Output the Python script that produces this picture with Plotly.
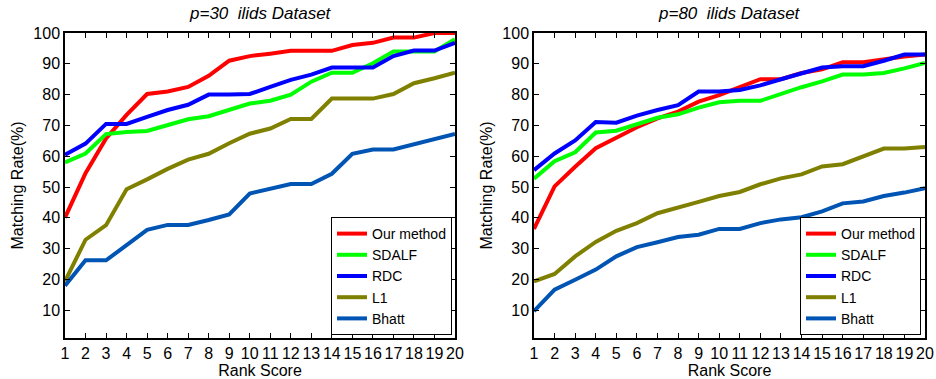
import plotly.graph_objects as go

rank = list(range(1, 21))
tick_labels = [str(i) for i in rank]
y_ticks = [10, 20, 30, 40, 50, 60, 70, 80, 90, 100]

series_names = ["Our method", "SDALF", "RDC", "L1", "Bhatt"]
series_colors = ["#FF0000", "#00FF00", "#0000FF", "#808000", "#0055B4"]

# p=30 panel
p30_our = [40.1, 54.5, 65.8, 73.4, 80.2, 81.0, 82.5, 86.1, 91.0, 92.5, 93.3, 94.2, 94.2, 94.2, 96.1, 96.8, 98.5, 98.5, 100, 100]
p30_sdalf = [58.0, 60.9, 67.2, 67.9, 68.2, 70.1, 72.0, 73.0, 75.2, 77.1, 78.0, 80.0, 84.2, 87.1, 87.1, 90.2, 94.0, 94.0, 94.0, 98.0]
p30_rdc = [60.5, 64.1, 70.5, 70.5, 72.8, 75.0, 76.7, 80.0, 80.0, 80.2, 82.5, 84.8, 86.5, 88.8, 88.8, 88.8, 92.5, 94.3, 94.3, 96.8]
p30_l1 = [19.4, 32.9, 37.6, 49.3, 52.5, 55.9, 58.9, 60.8, 64.2, 67.3, 69.0, 72.1, 72.1, 78.7, 78.7, 78.7, 80.2, 83.7, 85.3, 87.1]
p30_bhatt = [18.0, 26.2, 26.2, 31.3, 36.1, 37.7, 37.7, 39.3, 41.1, 47.9, 49.4, 51.0, 51.0, 54.3, 60.8, 62.2, 62.2, 63.8, 65.4, 67.2]

# p=80 panel
p80_our = [36.4, 50.2, 56.6, 62.6, 66.0, 69.4, 72.3, 74.5, 77.7, 79.8, 82.4, 85.0, 85.0, 87.0, 88.2, 90.5, 90.5, 91.6, 92.4, 93.0]
p80_sdalf = [52.7, 58.4, 61.3, 67.7, 68.3, 70.5, 72.5, 73.6, 75.8, 77.5, 78.0, 78.0, 80.3, 82.4, 84.3, 86.5, 86.5, 87.0, 88.5, 90.3]
p80_rdc = [55.5, 60.9, 65.1, 71.1, 70.9, 73.2, 75.0, 76.6, 81.0, 81.0, 81.5, 83.0, 85.0, 86.8, 88.8, 89.2, 89.2, 91.0, 93.0, 93.0]
p80_l1 = [19.4, 21.8, 27.5, 32.2, 35.8, 38.3, 41.5, 43.2, 45.2, 47.1, 48.4, 50.9, 52.8, 54.1, 56.7, 57.4, 60.0, 62.5, 62.5, 63.0]
p80_bhatt = [9.7, 16.7, 19.9, 23.2, 27.5, 30.5, 32.1, 33.8, 34.5, 36.4, 36.4, 38.3, 39.5, 40.2, 42.1, 44.7, 45.3, 47.1, 48.2, 49.6]

titles = ["p=30&nbsp; ilids Dataset", "p=80&nbsp; ilids Dataset"]

FONT = "Liberation Sans, Arial, Helvetica, sans-serif"
fig = go.Figure()

panels = [
    ("x", "y", "legend", [p30_our, p30_sdalf, p30_rdc, p30_l1, p30_bhatt]),
    ("x2", "y2", "legend2", [p80_our, p80_sdalf, p80_rdc, p80_l1, p80_bhatt]),
]
for xa, ya, lg, data in panels:
    for name, color, vals in zip(series_names, series_colors, data):
        fig.add_trace(go.Scatter(
            x=rank, y=vals, mode="lines", name=name,
            line=dict(color=color, width=4),
            xaxis=xa, yaxis=ya, legend=lg,
        ))

W, H = 936, 379
left_dom = [65 / W, 455 / W]
right_dom = [534 / W, 925 / W]
y_dom = [1 - 338 / H, 1 - 33 / H]

axis_common = dict(
    showline=True, linecolor="black", linewidth=1.5, mirror="ticks",
    ticks="inside", ticklen=5, tickwidth=1, tickcolor="black",
    showgrid=False, zeroline=False, automargin=False,
    tickfont=dict(family=FONT, size=16, color="black"),
)
xcommon = dict(axis_common, range=[1, 20], tickvals=rank, ticktext=tick_labels, tickangle=0,
               title=dict(text="Rank Score", font=dict(family=FONT, size=16, color="black"), standoff=0))
ycommon = dict(axis_common, range=[1, 100], tickvals=y_ticks,
               title=dict(text="Matching Rate(%)", font=dict(family=FONT, size=16, color="black"), standoff=6))

legend_common = dict(
    bgcolor="white", bordercolor="black", borderwidth=1,
    font=dict(family=FONT, size=14, color="black"),
    xanchor="left", yanchor="bottom", tracegroupgap=0, itemwidth=30,
)

fig.update_layout(
    width=W, height=H,
    margin=dict(l=0, r=0, t=0, b=0),
    paper_bgcolor="white", plot_bgcolor="white",
    xaxis=dict(xcommon, domain=left_dom, anchor="y"),
    yaxis=dict(ycommon, domain=y_dom, anchor="x"),
    xaxis2=dict(xcommon, domain=right_dom, anchor="y2"),
    yaxis2=dict(ycommon, domain=y_dom, anchor="x2"),
    legend=dict(legend_common, x=331 / W, y=1 - 335 / H),
    legend2=dict(legend_common, x=800 / W, y=1 - 335 / H),
    annotations=[
        dict(text="<i>" + titles[0] + "</i>", x=(left_dom[0] + left_dom[1]) / 2, y=1 - 13 / H,
             xref="paper", yref="paper", showarrow=False, xanchor="center", yanchor="middle",
             font=dict(family=FONT, size=17, color="black")),
        dict(text="<i>" + titles[1] + "</i>", x=(right_dom[0] + right_dom[1]) / 2, y=1 - 13 / H,
             xref="paper", yref="paper", showarrow=False, xanchor="center", yanchor="middle",
             font=dict(family=FONT, size=17, color="black")),
    ],
    showlegend=True,
)

fig.write_html("out.html", config={"displayModeBar": False},
               post_script="document.body.style.margin='0px';document.body.style.overflow='hidden';")
